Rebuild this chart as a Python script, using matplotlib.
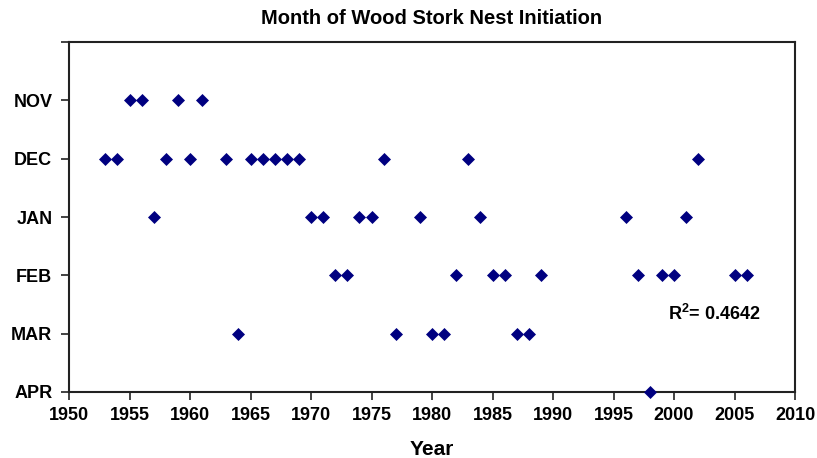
import matplotlib
matplotlib.use("Agg")
import matplotlib.pyplot as plt

plt.rcParams['font.family'] = ['Liberation Sans', 'DejaVu Sans']
plt.rcParams['mathtext.default'] = 'regular'

month_labels = ["APR", "MAR", "FEB", "JAN", "DEC", "NOV", ""]
month_levels = [0, 1, 2, 3, 4, 5, 6]

years_nov = [1955, 1956, 1959, 1961]
years_dec = [1953, 1954, 1958, 1960, 1963, 1965, 1966, 1967, 1968, 1969, 1976, 1983, 2002]
years_jan = [1957, 1970, 1971, 1974, 1975, 1979, 1984, 1996, 2001]
years_feb = [1972, 1973, 1982, 1985, 1986, 1989, 1997, 1999, 2000, 2005, 2006]
years_mar = [1964, 1977, 1980, 1981, 1987, 1988]
years_apr = [1998]

groups = [(years_nov, 5), (years_dec, 4), (years_jan, 3), (years_feb, 2), (years_mar, 1), (years_apr, 0)]
r2_text = "R$^{2}$= 0.4642"

fig = plt.figure(figsize=(8.17, 4.58), dpi=100)
ax = fig.add_axes([69/817, 1-392/458, (795-69)/817, (392-42)/458])

for yrs, lvl in groups:
    ax.scatter(yrs, [lvl]*len(yrs), marker='D', s=44, color='#000080', zorder=3, clip_on=False, linewidths=0)

ax.set_xlim(1950, 2010)
ax.set_ylim(0, 6)
ax.set_xticks(range(1950, 2011, 5))
ax.set_yticks(month_levels)
ax.set_yticklabels(month_labels)
for lab in ax.get_xticklabels() + ax.get_yticklabels():
    lab.set_fontweight('bold')
    lab.set_fontsize(13)
ax.tick_params(direction='out', length=6, width=1.2, colors='#222222', labelcolor='black')
ax.tick_params(axis='y', pad=6)
ax.tick_params(axis='x', pad=5)
for sp in ax.spines.values():
    sp.set_linewidth(1.5)
    sp.set_color('#222222')

ax.set_title("Month of Wood Stork Nest Initiation", fontsize=14.5, fontweight='bold', pad=13)
ax.set_xlabel("Year", fontsize=15, fontweight='bold', labelpad=11)
ax.text(1999.5, 1.33, r2_text, fontsize=13, fontweight='bold', va='center', ha='left')

fig.savefig("out.png", dpi=100)
